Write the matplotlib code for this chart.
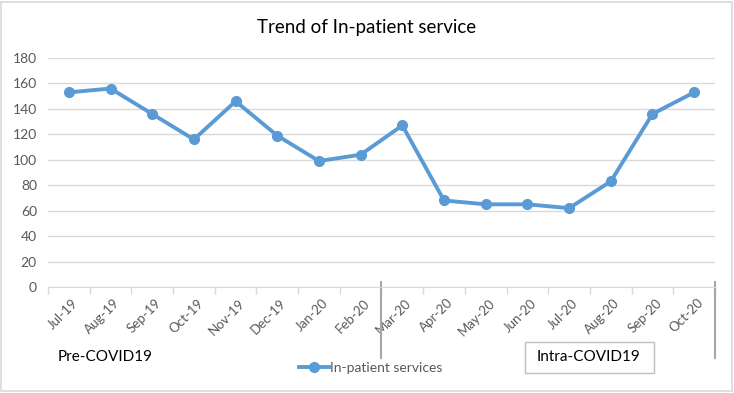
import matplotlib.pyplot as plt
import matplotlib.transforms as mtransforms
from matplotlib.patches import Rectangle

months = ['Jul-19', 'Aug-19', 'Sep-19', 'Oct-19', 'Nov-19', 'Dec-19', 'Jan-20', 'Feb-20',
          'Mar-20', 'Apr-20', 'May-20', 'Jun-20', 'Jul-20', 'Aug-20', 'Sep-20', 'Oct-20']
inpatient = [153, 156, 136, 116, 146, 119, 99, 104, 127, 68, 65, 65, 62, 83, 136, 153]
yticks = [0, 20, 40, 60, 80, 100, 120, 140, 160, 180]

plt.rcParams['font.family'] = ['Lato', 'DejaVu Sans']

fig = plt.figure(figsize=(7.34, 3.93), dpi=100)
ax = fig.add_axes([0.0654, 0.2697, 0.9087, 0.5827])

x = list(range(len(months)))
ax.plot(x, inpatient, color='#5B9BD5', lw=2.8, marker='o', ms=7,
        label='In-patient services', clip_on=False, zorder=3)

ax.set_xlim(-0.5, len(months) - 0.5)
ax.set_ylim(0, 180)
ax.set_yticks(yticks)
ax.tick_params(axis='y', length=0, labelsize=10, labelcolor='#595959', pad=8)
ax.grid(axis='y', color='#D9D9D9', lw=1)
ax.set_axisbelow(True)

ax.set_xticks(x)
ax.set_xticklabels(months, rotation=45, ha='right', rotation_mode='anchor',
                   fontsize=9.5, color='#595959')
ax.tick_params(axis='x', length=0, pad=7)
ax.set_xticks([i - 0.5 for i in range(len(months) + 1)], minor=True)
ax.tick_params(axis='x', which='minor', length=5, color='#D9D9D9', width=1)
for lab in ax.get_xticklabels():
    lab.set_transform(lab.get_transform() + mtransforms.ScaledTranslation(2 / 72, 0, fig.dpi_scale_trans))

for s in ['top', 'right', 'left']:
    ax.spines[s].set_visible(False)
ax.spines['bottom'].set_color('#D9D9D9')

fig.text(0.5, 0.93, 'Trend of In-patient service', ha='center', va='center', fontsize=13.5, color='#000000')

# period separators
trans = mtransforms.blended_transform_factory(ax.transData, fig.transFigure)
for bx in [7.5, 15.5]:
    ax.plot([bx, bx], [1 - 282 / 393, 1 - 358 / 393], transform=trans, color='#A6A6A6',
            lw=1.5, clip_on=False)

fig.text(0.079, 0.092, 'Pre-COVID19', fontsize=11, va='center', ha='left')
fig.add_artist(Rectangle((525 / 734, 1 - 373 / 393), 129 / 734, 31 / 393, transform=fig.transFigure,
                         fc='white', ec='#BFBFBF', lw=1))
fig.text(537 / 734, 1 - 357 / 393, 'Intra-COVID19', fontsize=11, va='center', ha='left')

leg = fig.legend(loc='center', bbox_to_anchor=(0.505, 0.064), frameon=False, fontsize=10,
                 handlelength=2.2, handletextpad=0.1)
for t in leg.get_texts():
    t.set_color('#595959')

fig.add_artist(Rectangle((0.002, 0.004), 0.995, 0.992, transform=fig.transFigure,
                         fill=False, ec='#D9D9D9', lw=1.2))

fig.savefig('out.png', dpi=100)
